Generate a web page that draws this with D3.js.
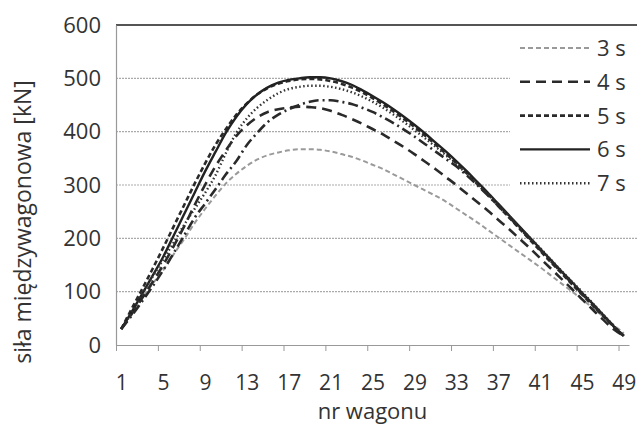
<!DOCTYPE html>
<html>
<head>
<meta charset="utf-8">
<script src="https://cdn.jsdelivr.net/npm/d3@7"></script>
<style>
  body { margin: 0; background: #fff; }
  svg text { font-family: "Open Sans", "Noto Sans", sans-serif; fill: #333; }
</style>
</head>
<body>
<div id="chart"></div>
<script>
// wagon numbers on the x axis
const wagons = d3.range(1, 50);
const xTickLabels = [1, 5, 9, 13, 17, 21, 25, 29, 33, 37, 41, 45, 49];
const yTicks = [0, 100, 200, 300, 400, 500, 600];

// inter-wagon force [kN]
const s3 = [30, 60, 88, 115, 140, 170, 198, 228, 255, 280, 303, 321, 336, 348, 356, 361, 365, 367, 367, 366,
  363, 358, 353, 346, 338, 330, 320, 310, 300, 290, 280, 269, 256, 243, 230, 216, 202, 188, 174, 160,
  146, 131, 116, 101, 86, 70, 54, 38, 22];
const s4 = [30, 58, 88, 118, 150, 185, 222, 262, 300, 335, 365, 392, 412, 427, 437, 442, 445, 447, 446, 444,
  439, 432, 424, 415, 405, 395, 383, 371, 358, 344, 330, 315, 300, 284, 268, 252, 235, 218, 200, 182,
  163, 144, 125, 106, 86, 67, 48, 30, 17];
const s5 = [30, 68, 105, 143, 182, 222, 262, 302, 340, 375, 405, 432, 453, 470, 482, 490, 495, 498, 499, 498,
  495, 490, 483, 474, 463, 451, 438, 424, 409, 393, 376, 359, 341, 322, 302, 282, 261, 240, 219, 198,
  177, 156, 136, 115, 95, 75, 55, 35, 17];
const s6 = [30, 62, 96, 130, 165, 205, 245, 285, 325, 362, 398, 428, 452, 470, 483, 492, 497, 500, 502, 502,
  500, 495, 488, 478, 467, 455, 442, 428, 413, 397, 380, 363, 345, 326, 306, 286, 265, 244, 223, 202,
  181, 160, 139, 119, 98, 78, 57, 36, 17];
const s7 = [30, 60, 95, 128, 160, 192, 225, 255, 285, 318, 360, 398, 425, 445, 460, 472, 480, 484, 486, 486,
  484, 480, 474, 466, 456, 445, 432, 418, 403, 388, 372, 356, 339, 321, 302, 283, 263, 243, 222, 202,
  182, 161, 140, 120, 100, 79, 58, 37, 17];
// dash-dot curve that has no legend entry
const sExtra = [30, 55, 82, 110, 140, 172, 205, 238, 265, 292, 320, 345, 375, 398, 418, 432, 442, 450, 456, 459,
  459, 456, 452, 445, 437, 427, 416, 404, 391, 377, 363, 349, 335, 318, 300, 281, 261, 241, 220, 200,
  179, 158, 137, 117, 96, 76, 56, 36, 17];

const series = [
  {name: '3 s', values: s3, color: '#9a9a9a', width: 2, dash: '5,3', legend: true},
  {name: '4 s', values: s4, color: '#2a2a2a', width: 2.6, dash: '10,6', legend: true},
  {name: '5 s', values: s5, color: '#2a2a2a', width: 2.6, dash: '5,3', legend: true},
  {name: '6 s', values: s6, color: '#222', width: 2.4, dash: null, legend: true},
  {name: '7 s', values: s7, color: '#333', width: 2.4, dash: '1.5,2.5', legend: true},
  {name: 'extra', values: sExtra, color: '#2a2a2a', width: 2.6, dash: '10,4,2,4', legend: false}
];

const W = 637, H = 428;
const plot = {left: 116, right: 629, top: 25, bottom: 345};

const svg = d3.select('#chart').append('svg')
  .attr('width', W)
  .attr('height', H);

const x = d3.scaleLinear().domain([0.5, 49.5]).range([plot.left, plot.right]);
const y = d3.scaleLinear().domain([0, 600]).range([plot.bottom, plot.top]);

// gridlines
svg.append('g')
  .selectAll('line')
  .data(yTicks.filter(d => d > 0))
  .join('line')
  .attr('x1', plot.left)
  .attr('x2', W)
  .attr('y1', d => y(d))
  .attr('y2', d => y(d))
  .style('stroke', d => d === 600 ? '#555' : '#aaa')
  .style('stroke-width', d => d === 600 ? 2 : 1.2)
  .style('stroke-dasharray', d => d === 600 ? null : '2,1');

// y axis
const yAxis = svg.append('g')
  .attr('transform', `translate(${plot.left},0)`)
  .call(d3.axisLeft(y).tickValues(yTicks).tickSize(0).tickPadding(15));
yAxis.select('.domain').style('stroke', '#999').style('stroke-width', 1.2);
yAxis.selectAll('text').style('font-size', '22px').attr('fill', '#333');

// x axis: tick marks between categories, labels on categories
const xMarks = svg.append('g')
  .attr('transform', `translate(0,${plot.bottom})`)
  .call(d3.axisBottom(x).tickValues(d3.range(0.5, 49, 4)).tickFormat('').tickSize(6).tickSizeOuter(0));
xMarks.select('.domain').style('stroke', '#999').style('stroke-width', 1.2);
xMarks.selectAll('.tick line').style('stroke', '#999');

const xLabels = svg.append('g')
  .attr('transform', `translate(0,${plot.bottom})`)
  .call(d3.axisBottom(x).tickValues(xTickLabels).tickSize(0).tickPadding(30));
xLabels.select('.domain').remove();
xLabels.selectAll('text').style('font-size', '21px').attr('fill', '#333');

// axis titles
svg.append('text')
  .attr('x', (plot.left + plot.right) / 2)
  .attr('y', 419)
  .attr('text-anchor', 'middle')
  .style('font-size', '22px')
  .text('nr wagonu');

svg.append('text')
  .attr('transform', 'rotate(-90)')
  .attr('x', -222)
  .attr('y', 31)
  .attr('text-anchor', 'middle')
  .style('font-size', '23px')
  .text('siła międzywagonowa [kN]');

// lines
const line = d3.line()
  .x((d, i) => x(wagons[i]))
  .y(d => y(d))
  .curve(d3.curveMonotoneX);

svg.append('g')
  .selectAll('path')
  .data(series)
  .join('path')
  .attr('d', d => line(d.values))
  .style('fill', 'none')
  .style('stroke', d => d.color)
  .style('stroke-width', d => d.width)
  .style('stroke-dasharray', d => d.dash);

// legend
const legend = svg.append('g');
legend.append('rect')
  .attr('x', 510)
  .attr('y', 28)
  .attr('width', W - 510)
  .attr('height', 172)
  .style('fill', '#fff');

const items = legend.selectAll('g.item')
  .data(series.filter(d => d.legend))
  .join('g')
  .attr('class', 'item')
  .attr('transform', (d, i) => `translate(520,${48 + i * 33.8})`);

items.append('line')
  .attr('x1', 0)
  .attr('x2', 70)
  .style('stroke', d => d.color)
  .style('stroke-width', d => d.width)
  .style('stroke-dasharray', d => d.dash);

items.append('text')
  .attr('x', 77)
  .attr('y', 8)
  .style('font-size', '22px')
  .text(d => d.name);
</script>
</body>
</html>
